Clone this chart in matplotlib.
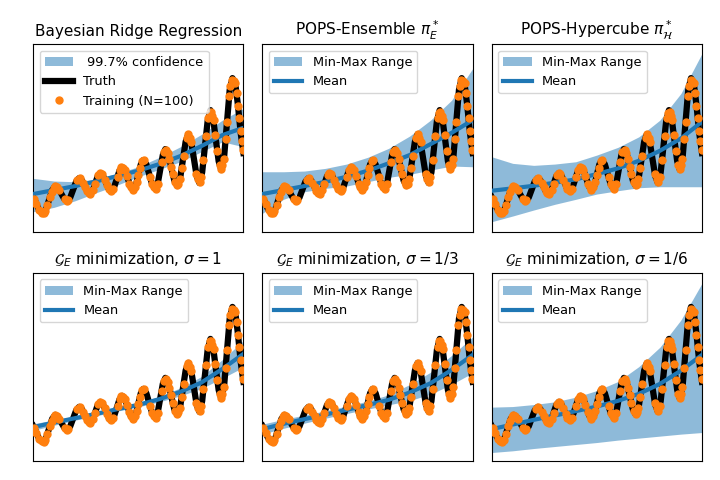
import numpy as np
import matplotlib
matplotlib.use("Agg")
import matplotlib.pyplot as plt

# Truth curve
truth_x = [0.000, 0.012, 0.024, 0.036,
           0.0476, 0.0619, 0.0762, 0.0905,
           0.1048, 0.1191, 0.1334, 0.1476,
           0.1619, 0.1762, 0.1905, 0.2047,
           0.2190, 0.2321, 0.2452, 0.2583,
           0.2714, 0.2833, 0.2952, 0.3071,
           0.3190, 0.3321, 0.3452, 0.3583,
           0.3714, 0.3845, 0.3976, 0.4107,
           0.4238, 0.4369, 0.4500, 0.4631,
           0.4762, 0.4881, 0.5000, 0.5119,
           0.5238, 0.5381, 0.5524, 0.5667,
           0.5810, 0.5929, 0.6048, 0.6167,
           0.6286, 0.6429, 0.6571, 0.6714,
           0.6857, 0.6988, 0.7119, 0.7250,
           0.7381, 0.7512, 0.7643, 0.7774,
           0.7905, 0.8036, 0.8167, 0.8298,
           0.8429, 0.8560, 0.8690, 0.8821,
           0.8952, 0.9083, 0.9214, 0.9345,
           0.9476, 0.9607, 0.9738, 0.9869, 1.000]
truth_y = [3.50, 3.00, 2.40, 2.00,
           1.90, 2.30, 3.25, 4.20,
           4.60, 4.38, 3.85, 3.32,
           3.10, 3.44, 4.25, 5.06,
           5.40, 5.17, 4.60, 4.03,
           3.80, 4.11, 4.85, 5.59,
           5.90, 5.64, 5.00, 4.36,
           4.10, 4.45, 5.30, 6.15,
           6.50, 6.16, 5.35, 4.54,
           4.20, 4.64, 5.70, 6.76,
           7.20, 6.78, 5.75, 4.72,
           4.30, 4.89, 6.30, 7.71,
           8.30, 7.76, 6.45, 5.14,
           4.60, 5.36, 7.20, 9.04,
           9.80, 9.08, 7.35, 5.62,
           4.90, 5.97, 8.55, 11.13,
           12.20, 11.32, 9.20, 7.08,
           6.20, 7.58, 10.90, 14.22,
           15.40, 14.90, 12.70, 9.90, 7.90]

# Training points (N=100)
train_x = [0.005, 0.016, 0.030, 0.040, 0.050, 0.057, 0.068, 0.080, 0.088, 0.097,
           0.103, 0.112, 0.125, 0.150, 0.159, 0.165, 0.210, 0.222, 0.238, 0.248,
           0.256, 0.265, 0.272, 0.285, 0.294, 0.310, 0.318, 0.326, 0.340, 0.352,
           0.360, 0.372, 0.380, 0.402, 0.412, 0.420, 0.428, 0.436, 0.446, 0.458,
           0.466, 0.474, 0.484, 0.492, 0.500, 0.508, 0.520, 0.526, 0.556, 0.566,
           0.575, 0.584, 0.592, 0.611, 0.622, 0.632, 0.640, 0.648, 0.656, 0.664,
           0.676, 0.684, 0.690, 0.697, 0.706, 0.715, 0.732, 0.738, 0.746, 0.752,
           0.776, 0.784, 0.792, 0.798, 0.810, 0.822, 0.833, 0.840, 0.846, 0.852,
           0.858, 0.866, 0.876, 0.888, 0.894, 0.900, 0.906, 0.915, 0.922, 0.932,
           0.938, 0.946, 0.954, 0.961, 0.967, 0.973, 0.980, 0.986, 0.992, 0.998]
train_y = [3.30, 2.80, 2.20, 1.95, 1.92, 2.10, 2.70, 3.50, 4.03, 4.38,
           4.60, 4.49, 4.16, 3.28, 3.12, 3.17, 5.19, 5.38, 4.91, 4.49,
           4.12, 3.91, 3.80, 4.22, 4.78, 5.66, 5.90, 5.76, 5.25, 4.67,
           4.33, 4.10, 4.33, 5.46, 6.18, 6.47, 6.39, 6.20, 5.60, 4.85,
           4.47, 4.20, 4.49, 4.99, 5.70, 6.41, 7.06, 7.18, 5.49, 4.77,
           4.48, 4.30, 4.80, 7.03, 7.98, 8.17, 7.87, 7.29, 6.55, 5.83,
           4.96, 4.66, 4.85, 5.26, 6.37, 7.64, 9.45, 9.80, 9.37, 9.03,
           5.81, 5.26, 5.02, 5.51, 7.23, 9.60, 11.39, 11.96, 11.99, 11.59,
           11.18, 9.69, 8.07, 6.69, 6.29, 6.70, 7.34, 9.27, 11.05, 13.60,
           14.59, 15.20, 15.10, 14.90, 13.90, 12.60, 11.37, 10.10, 9.12, 8.20]

# mean / band edges on a common grid
grid_x = [0.0, 0.1, 0.2, 0.3, 0.4, 0.5, 0.6, 0.7, 0.8, 0.9, 1.0]

brr_mean = [3.80, 4.20, 4.60, 5.07, 5.60, 6.13, 6.80, 7.60, 8.60, 9.70, 10.43]
brr_lo = [2.03, 2.47, 3.13, 3.93, 4.70, 5.53, 6.27, 7.03, 8.03, 9.03, 8.53]
brr_hi = [5.37, 5.10, 5.03, 5.30, 5.87, 6.53, 7.47, 8.53, 9.77, 11.20, 12.37]

ens_mean = [3.80, 4.20, 4.60, 5.03, 5.53, 6.13, 6.87, 7.70, 8.80, 9.93, 11.20]
ens_lo = [1.87, 3.27, 4.03, 4.37, 4.60, 5.03, 5.47, 5.77, 6.20, 6.60, 6.53]
ens_hi = [6.03, 6.03, 6.10, 6.37, 6.80, 7.47, 8.37, 9.60, 11.20, 13.20, 16.37]

hyp_mean = [4.13, 4.37, 4.63, 4.93, 5.27, 5.80, 6.37, 7.13, 8.13, 9.37, 11.03]
hyp_lo = [1.03, 1.60, 2.20, 2.77, 3.27, 3.80, 4.13, 4.43, 4.53, 4.53, 4.53]
hyp_hi = [7.53, 6.87, 6.67, 6.80, 7.03, 7.70, 8.47, 9.53, 11.20, 13.87, 17.87]

g1_mean = [3.37, 3.83, 4.27, 4.70, 5.17, 5.60, 6.17, 6.90, 7.83, 9.20, 10.70]
g1_lo = [3.04, 3.56, 4.07, 4.50, 4.97, 5.40, 5.90, 6.50, 7.23, 8.27, 9.37]
g1_hi = [3.70, 4.10, 4.47, 4.90, 5.37, 5.80, 6.44, 7.30, 8.43, 10.13, 12.03]

g3_mean = [3.17, 3.70, 4.17, 4.63, 5.10, 5.57, 6.10, 6.83, 7.77, 9.10, 10.60]
g3_lo = [2.67, 3.25, 3.77, 4.26, 4.73, 5.17, 5.60, 6.03, 6.67, 7.65, 8.80]
g3_hi = [3.67, 4.15, 4.57, 5.00, 5.47, 5.97, 6.60, 7.63, 8.87, 10.55, 12.40]

g6_mean = [3.17, 3.63, 4.10, 4.53, 4.97, 5.43, 6.00, 6.70, 7.70, 9.03, 10.60]
g6_lo = [0.83, 1.00, 1.23, 1.43, 1.63, 1.83, 2.07, 2.27, 2.47, 2.67, 2.83]
g6_hi = [5.37, 5.43, 5.63, 5.90, 6.37, 7.03, 7.93, 9.43, 11.37, 14.10, 17.77]

titles = ["Bayesian Ridge Regression",
          r"POPS-Ensemble $\pi^*_E$",
          r"POPS-Hypercube $\pi^*_\mathcal{H}$",
          r"$\mathcal{G}_E$ minimization, $\sigma=1$",
          r"$\mathcal{G}_E$ minimization, $\sigma=1/3$",
          r"$\mathcal{G}_E$ minimization, $\sigma=1/6$"]
means = [brr_mean, ens_mean, hyp_mean, g1_mean, g3_mean, g6_mean]
los = [brr_lo, ens_lo, hyp_lo, g1_lo, g3_lo, g6_lo]
his = [brr_hi, ens_hi, hyp_hi, g1_hi, g3_hi, g6_hi]

fig, axes = plt.subplots(2, 3, figsize=(7.2, 4.8), dpi=100)
plt.subplots_adjust(left=0.046, right=0.975, top=0.908, bottom=0.04,
                    wspace=0.09, hspace=0.218)

for i, ax in enumerate(axes.flat):
    if i == 0:
        band_label = " 99.7% confidence"
    else:
        band_label = "Min-Max Range"
    ax.fill_between(grid_x, los[i], his[i], color="C0", alpha=0.5,
                    lw=0, label=band_label)
    ax.plot(truth_x, truth_y, color="k", lw=4.5, zorder=2,
            label="Truth" if i == 0 else None)
    ax.plot(grid_x, means[i], color="C0", lw=3, zorder=3,
            label=None if i == 0 else "Mean")
    if i == 0:
        ax.plot(train_x, train_y, "o", color="C1", ms=5, zorder=4,
                label="Training (N=100)")
    else:
        ax.plot(train_x, train_y, "o", color="C1", ms=5, zorder=4)
    ax.set_xlim(0, 1)
    ax.set_ylim(0, 18.8)
    ax.set_xticks([])
    ax.set_yticks([])
    ax.set_title(titles[i], fontsize=11)
    ax.legend(loc="upper left", fontsize=9.3, handlelength=2.2)

plt.savefig("out.png")
